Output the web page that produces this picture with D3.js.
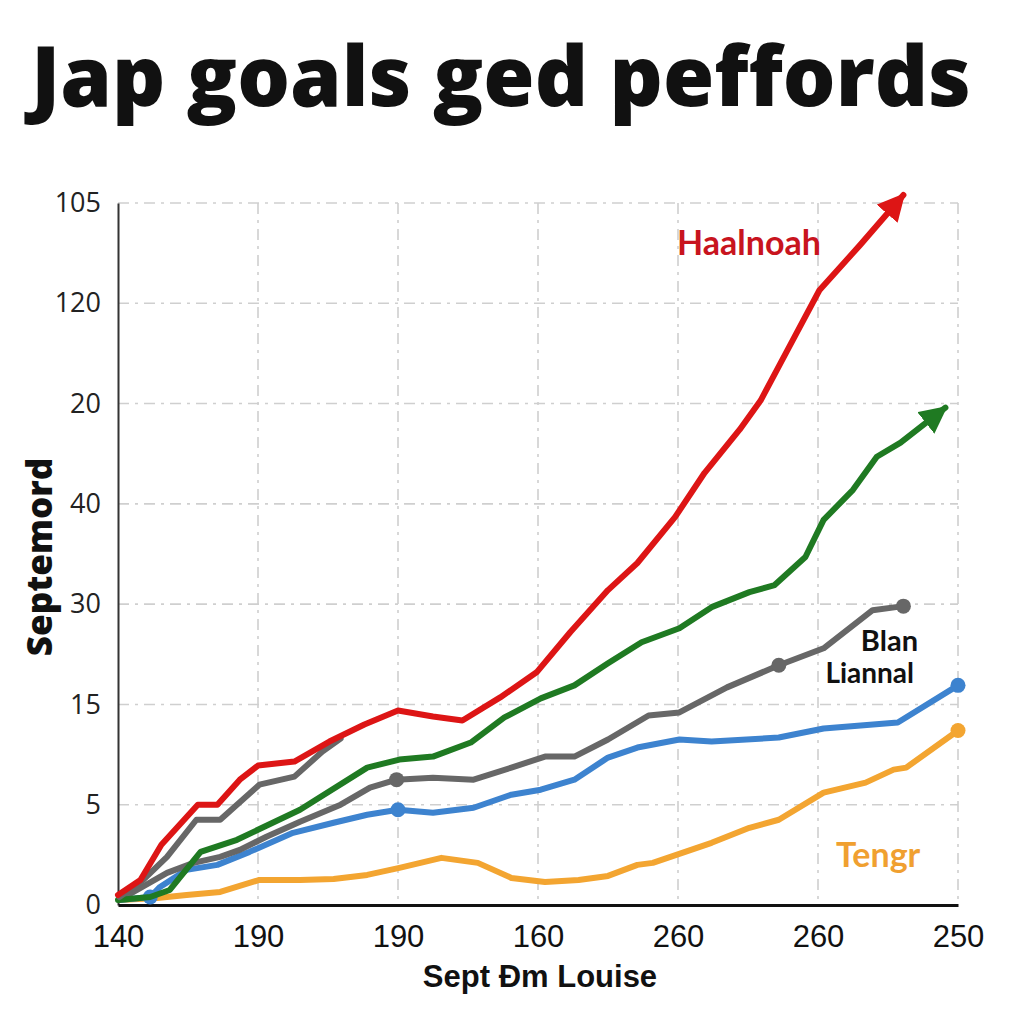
<!DOCTYPE html>
<html><head><meta charset="utf-8">
<script src="https://cdn.jsdelivr.net/npm/d3@7"></script>
<style>body{margin:0;background:#fff}svg{display:block}</style>
</head><body>
<svg id="c" width="1024" height="1024"></svg>
<script>
const title = "Jap goals ged peffords";
const yLabel = "Septemord";
const xLabel = "Sept Đm Louise";
const xTickLabels = ["140","190","190","160","260","260","250"];
const yTickLabels = ["0","5","15","30","40","20","120","105"];

// values in grid units (x: tick index, y: tick index)
const red = [[0,0.10],[0.16,0.25],[0.31,0.60],[0.44,0.80],[0.57,1.00],[0.71,1.00],[0.87,1.25],[1.00,1.39],[1.26,1.43],[1.51,1.63],[1.76,1.80],[2.00,1.94],[2.25,1.88],[2.46,1.84],[2.73,2.07],[2.99,2.32],[3.23,2.72],[3.50,3.14],[3.71,3.41],[3.98,3.87],[4.19,4.31],[4.44,4.74],[4.59,5.03],[4.80,5.58],[5.01,6.13],[5.30,6.58],[5.61,7.08]];
const grayUpper = [[0.01,0.08],[0.18,0.25],[0.35,0.48],[0.56,0.85],[0.73,0.85],[1.01,1.20],[1.26,1.28],[1.46,1.53],[1.59,1.66]];
const gray = [[0.01,0.05],[0.35,0.32],[0.54,0.42],[0.73,0.48],[0.87,0.55],[1.06,0.68],[1.30,0.83],[1.59,1.00],[1.80,1.17],[1.99,1.25],[2.25,1.27],[2.54,1.25],[2.81,1.37],[3.05,1.48],[3.26,1.48],[3.50,1.65],[3.79,1.89],[4.01,1.92],[4.35,2.17],[4.72,2.39],[5.04,2.56],[5.39,2.94],[5.61,2.98]];
const grayDots = [[1.99,1.25],[4.72,2.39],[5.61,2.98]];
const blue = [[0.01,0.05],[0.23,0.08],[0.30,0.18],[0.49,0.35],[0.71,0.40],[0.94,0.53],[1.25,0.72],[1.54,0.82],[1.78,0.90],[2.00,0.95],[2.25,0.92],[2.54,0.97],[2.81,1.10],[3.02,1.15],[3.26,1.25],[3.50,1.47],[3.71,1.57],[4.01,1.65],[4.24,1.63],[4.72,1.67],[5.04,1.76],[5.57,1.82],[6.00,2.19]];
const blueDots = [[0.23,0.08],[2.00,0.95],[6.00,2.19]];
const orange = [[0.01,0.05],[0.28,0.07],[0.49,0.10],[0.73,0.13],[1.01,0.25],[1.30,0.25],[1.54,0.26],[1.78,0.30],[2.01,0.37],[2.31,0.47],[2.57,0.42],[2.81,0.27],[3.05,0.23],[3.29,0.25],[3.50,0.29],[3.71,0.40],[3.82,0.42],[4.24,0.62],[4.51,0.77],[4.72,0.85],[5.04,1.12],[5.34,1.22],[5.54,1.35],[5.63,1.37],[6.00,1.74]];
const orangeDots = [[6.00,1.74]];
const green = [[0,0.05],[0.23,0.08],[0.37,0.15],[0.59,0.53],[0.85,0.65],[1.30,0.95],[1.78,1.37],[2.01,1.45],[2.25,1.48],[2.52,1.62],[2.76,1.87],[3.02,2.06],[3.26,2.19],[3.50,2.41],[3.74,2.62],[4.01,2.76],[4.24,2.97],[4.51,3.12],[4.69,3.19],[4.91,3.47],[5.04,3.84],[5.25,4.14],[5.42,4.47],[5.59,4.61],[5.91,4.96]];

const C = {red:"#dd1515", green:"#1f7a22", gray:"#676767", blue:"#3d83cf", orange:"#f3a531"};

const svg = d3.select("#c");
const L=118,R=958,T=203,B=905;
const x = d3.scaleLinear().domain([0,6]).range([L,R]);
const y = d3.scaleLinear().domain([0,7]).range([B,T]);

const defs = svg.append("defs");
function arrow(id,col){
  defs.append("marker").attr("id",id).attr("viewBox","0 0 10 10").attr("refX",9).attr("refY",5)
    .attr("markerWidth",4.6).attr("markerHeight",4.6).attr("markerUnits","strokeWidth").attr("orient","auto")
    .append("path").attr("d","M0,0 L10,5 L0,10 z").attr("fill",col);
}
arrow("ar",C.red); arrow("ag",C.green);

svg.append("text").attr("x",501).attr("y",106).attr("text-anchor","middle")
  .attr("font-family","Open Sans").attr("font-weight",800).attr("font-size",83).attr("fill","#111").text(title);

// grid
const dash="11,6,3,6";
svg.append("g").selectAll("line").data(d3.range(1,8)).join("line")
  .attr("x1",L).attr("x2",R).attr("y1",d=>y(d)).attr("y2",d=>y(d))
  .attr("stroke","#cfcfcf").attr("stroke-width",1.6).attr("stroke-dasharray",dash);
svg.append("g").selectAll("line").data(d3.range(1,7)).join("line")
  .attr("y1",T).attr("y2",B).attr("x1",d=>x(d)).attr("x2",d=>x(d))
  .attr("stroke","#cfcfcf").attr("stroke-width",1.6).attr("stroke-dasharray",dash);

// axes
const yAxis = d3.axisLeft(y).tickValues(d3.range(0,8)).tickFormat(i=>yTickLabels[i]).tickSize(0).tickPadding(17);
const gy = svg.append("g").attr("transform",`translate(${L},0)`).call(yAxis);
gy.select(".domain").attr("stroke","#333").attr("stroke-width",2);
gy.selectAll("text").attr("font-family","Open Sans").attr("font-size",27).attr("fill","#222");

const xAxis = d3.axisBottom(x).tickValues(d3.range(0,7)).tickFormat(i=>xTickLabels[i]).tickSize(0).tickPadding(20);
const gx = svg.append("g").attr("transform",`translate(0,${B})`).call(xAxis);
gx.select(".domain").attr("stroke","#111").attr("stroke-width",3);
gx.selectAll("text").attr("font-family","Liberation Sans, Arial, sans-serif").attr("font-size",31).attr("fill","#111");

svg.append("text").attr("x",540).attr("y",987).attr("text-anchor","middle")
  .attr("font-family","Liberation Sans, sans-serif").attr("font-weight",700).attr("font-size",31).attr("fill","#111").text(xLabel);
svg.append("text").attr("transform","translate(52,557) rotate(-90)").attr("text-anchor","middle")
  .attr("font-family","Open Sans").attr("font-weight",800).attr("font-size",35).attr("fill","#111").text(yLabel);

const line = d3.line().x(d=>x(d[0])).y(d=>y(d[1]));
function draw(data,col,w,marker){
  const p = svg.append("path").attr("d",line(data)).attr("fill","none").attr("stroke",col)
    .attr("stroke-width",w).attr("stroke-linejoin","round").attr("stroke-linecap","round");
  if(marker) p.attr("marker-end",`url(#${marker})`);
}
function dots(data,col,r){
  svg.append("g").selectAll("circle").data(data).join("circle")
    .attr("cx",d=>x(d[0])).attr("cy",d=>y(d[1])).attr("r",r).attr("fill",col);
}
draw(orange,C.orange,6); dots(orangeDots,C.orange,7.5);
draw(blue,C.blue,6); dots(blueDots,C.blue,7.5);
draw(gray,C.gray,6); dots(grayDots,C.gray,7.5);
draw(green,C.green,6,"ag");
draw(grayUpper,C.gray,6);
draw(red,C.red,6,"ar");

function label(t,xx,yy,col,size,anchor){
  svg.append("text").attr("x",xx).attr("y",yy).attr("text-anchor",anchor||"start")
    .attr("font-family","Lato").attr("font-weight",700).attr("font-size",size).attr("fill",col).text(t);
}
label("Haalnoah",677,255,"#c8141e",34);
label("Blan",918,651,"#111",29,"end");
label("Liannal",914,683,"#111",28,"end");
label("Tengr",836,867,"#f0a030",34);
</script>
</body></html>
